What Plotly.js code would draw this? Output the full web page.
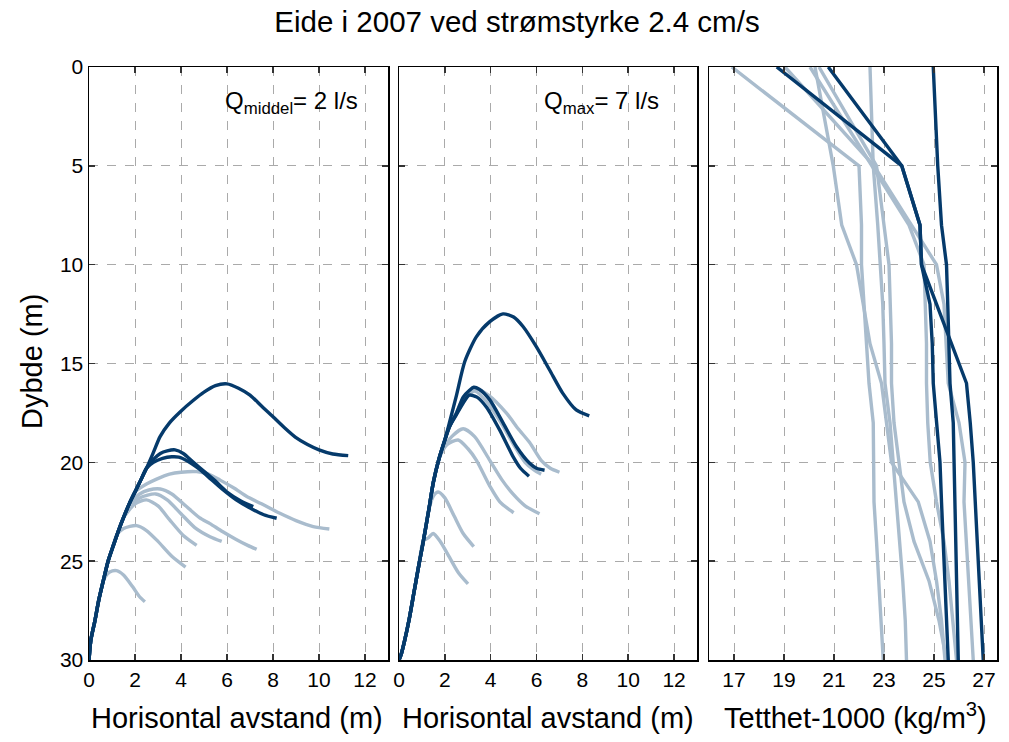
<!DOCTYPE html>
<html>
<head>
<meta charset="utf-8">
<script src="https://cdn.plot.ly/plotly-3.0.1.min.js"></script>
<style>html,body{margin:0;padding:0;background:#fff;}#chart{width:1009px;height:742px;}</style>
</head>
<body>
<div id="chart"></div>
<script>
// ---------- Panel 1: Q middel = 2 l/s (horizontal distance vs depth) ----------
const p1_dark1_x = [0,0.08,0.26,0.42,0.62,0.83,1.06,1.3,1.5,1.75,2.0,2.25,2.5,2.8,3.09,3.5,3.96,4.5,5.0,5.5,6.0,6.5,7.0,7.5,8.0,8.5,9.0,9.5,10.0,10.6,11.27];
const p1_dark1_y = [30,29,28,27,26,25,24.2,23.4,22.8,22.1,21.5,20.9,20.3,19.5,18.7,18.0,17.45,16.9,16.45,16.12,16.03,16.25,16.6,17.15,17.69,18.25,18.75,19.1,19.37,19.58,19.66];
const p1_dark2_x = [0,0.08,0.26,0.42,0.62,0.83,1.06,1.3,1.5,1.75,2.0,2.25,2.5,2.8,3.1,3.4,3.74,4.1,4.54,5.0,5.5,6.0,6.6,7.14];
const p1_dark2_y = [30,29,28,27,26,25,24.2,23.4,22.8,22.1,21.5,20.9,20.3,19.85,19.55,19.42,19.37,19.55,20.0,20.45,20.95,21.5,21.95,22.24];
const p1_dark3_x = [0,0.08,0.26,0.42,0.62,0.83,1.06,1.3,1.5,1.75,2.0,2.25,2.5,2.8,3.2,3.6,3.9,4.3,4.8,5.3,5.84,6.4,7.14,7.6,8.16];
const p1_dark3_y = [30,29,28,27,26,25,24.2,23.4,22.8,22.1,21.5,20.9,20.3,20.0,19.8,19.72,19.74,19.95,20.35,20.85,21.4,21.9,22.4,22.65,22.83];
const p1_light1_x = [0,0.08,0.26,0.42,0.62,0.83,1.06,1.3,1.5,1.75,2.0,2.5,2.94,3.5,4.0,4.68,5.2,5.7,6.3,6.86,7.5,8.3,9.0,9.75,10.45];
const p1_light1_y = [30,29,28,27,26,25,24.2,23.4,22.8,22.1,21.5,21.1,20.85,20.6,20.5,20.47,20.6,20.9,21.3,21.73,22.1,22.58,22.95,23.25,23.37];
const p1_light2_x = [0,0.08,0.26,0.42,0.62,0.83,1.06,1.3,1.5,1.75,2.2,2.6,3.1,3.6,4.2,4.8,5.26,5.8,6.4,6.9,7.29];
const p1_light2_y = [30,29,28,27,26,25,24.2,23.4,22.8,22.1,21.6,21.4,21.35,21.6,22.2,22.8,23.1,23.5,23.9,24.2,24.4];
const p1_light3_x = [0,0.08,0.26,0.42,0.62,0.83,1.06,1.3,1.5,1.7,2.2,2.9,3.4,4.0,4.6,5.26,5.77];
const p1_light3_y = [30,29,28,27,26,25,24.2,23.4,22.8,22.3,21.8,21.6,21.9,22.6,23.3,23.76,24.0];
const p1_light4_x = [0,0.08,0.26,0.42,0.62,0.83,1.06,1.3,1.5,2.0,2.5,3.0,3.5,4.1,4.68];
const p1_light4_y = [30,29,28,27,26,25,24.2,23.4,22.8,22.1,21.9,22.2,22.9,23.7,24.2];
const p1_light5_x = [0,0.08,0.26,0.42,0.62,0.83,1.06,1.2,1.5,2.07,2.5,3.0,3.6,4.2];
const p1_light5_y = [30,29,28,27,26,25,24.2,23.7,23.35,23.2,23.45,24.0,24.75,25.3];
const p1_light6_x = [0,0.08,0.26,0.42,0.62,0.7,0.9,1.2,1.5,1.9,2.2,2.43];
const p1_light6_y = [30,29,28,27,26,25.8,25.55,25.48,25.7,26.3,26.8,27.05];

// ---------- Panel 2: Q max = 7 l/s ----------
const p2_dark1_x = [0,0.1,0.25,0.45,0.65,0.85,1.06,1.3,1.5,1.75,2.0,2.2,2.51,2.87,3.38,3.96,4.54,5.0,5.41,5.99,6.57,7.14,7.73,8.3];
const p2_dark1_y = [30,29.7,29.0,27.9,26.6,25.3,24.0,22.4,21.0,19.8,18.87,18.0,16.6,14.9,13.64,12.88,12.49,12.65,13.13,14.15,15.33,16.5,17.35,17.65];
const p2_dark2_x = [0,0.1,0.25,0.45,0.65,0.85,1.06,1.3,1.5,1.75,2.0,2.2,2.51,2.8,3.09,3.26,3.5,3.96,4.54,5.12,5.7,6.0,6.35];
const p2_dark2_y = [30,29.7,29.0,27.9,26.6,25.3,24.0,22.4,21.0,19.8,18.87,18.2,17.5,16.7,16.34,16.2,16.3,16.84,18.0,19.2,20.05,20.3,20.4];
const p2_dark3_x = [0,0.1,0.25,0.45,0.65,0.85,1.06,1.3,1.5,1.75,2.0,2.2,2.5,2.8,3.06,3.4,3.81,4.39,4.97,5.3,5.67];
const p2_dark3_y = [30,29.7,29.0,27.9,26.6,25.3,24.0,22.4,21.0,19.8,18.87,18.2,17.6,17.0,16.6,16.7,17.2,18.36,19.7,20.3,20.7];
const p2_light1_x = [0,0.1,0.25,0.45,0.65,0.85,1.06,1.3,1.5,1.75,2.0,2.2,2.5,2.9,3.4,3.9,4.68,5.2,5.7,6.2,6.6,7.0];
const p2_light1_y = [30,29.7,29.0,27.9,26.6,25.3,24.0,22.4,21.0,19.8,18.87,18.2,17.5,16.6,16.3,16.6,17.5,18.3,19.0,19.9,20.3,20.5];
const p2_light2_x = [0,0.1,0.25,0.45,0.65,0.85,1.06,1.3,1.5,1.75,2.0,2.2,2.5,2.9,3.3,3.8,4.4,5.0,5.5,5.9,6.2];
const p2_light2_y = [30,29.7,29.0,27.9,26.6,25.3,24.0,22.4,21.0,19.8,18.87,18.2,17.55,16.8,16.4,16.9,17.9,19.1,20.0,20.4,20.6];
const p2_light3_x = [0,0.1,0.25,0.45,0.65,0.85,1.06,1.3,1.5,1.75,1.9,2.3,2.8,3.3,3.96,4.5,4.97,5.5,6.13];
const p2_light3_y = [30,29.7,29.0,27.9,26.6,25.3,24.0,22.4,21.0,19.8,19.4,18.7,18.3,18.7,19.9,20.9,21.6,22.2,22.6];
const p2_light4_x = [0,0.1,0.25,0.45,0.65,0.85,1.06,1.3,1.5,1.75,2.1,2.58,3.0,3.38,3.96,4.4,5.0];
const p2_light4_y = [30,29.7,29.0,27.9,26.6,25.3,24.0,22.4,21.0,19.8,19.1,18.87,19.3,19.9,21.2,22.0,22.55];
const p2_light5_x = [0,0.1,0.25,0.45,0.65,0.85,1.06,1.3,1.5,1.71,2.0,2.4,2.8,3.26];
const p2_light5_y = [30,29.7,29.0,27.9,26.6,25.3,24.0,22.4,21.7,21.5,21.8,22.7,23.6,24.26];
const p2_light6_x = [0,0.1,0.25,0.45,0.65,0.85,1.06,1.3,1.49,1.8,2.2,2.6,3.01];
const p2_light6_y = [30,29.7,29.0,27.9,26.6,25.3,24.0,23.8,23.6,24.0,24.8,25.6,26.15];

// ---------- Panel 3: density profiles (Tetthet-1000) ----------
const depthNodes = [0,5,8,10,12,14,16,18,20,22,24,26,28,30];
const rho_dark1 = [18.71,23.71,24.44,24.5,24.84,24.93,24.97,25.1,25.24,25.3,25.37,25.44,25.5,25.57];
const rho_dark2 = [20.77,23.71,24.44,24.5,25.1,25.7,26.3,26.45,26.57,26.65,26.73,26.81,26.89,26.97];
const rho_dark3 = [24.97,25.15,25.3,25.5,25.55,25.6,25.64,25.77,25.8,25.83,25.87,25.9,25.94,25.97];
const rho_light1 = [16.91,22.0,22.1,22.1,22.2,22.3,22.4,22.57,22.57,22.6,22.7,22.8,22.9,22.97];
const rho_light2 = [22.44,22.57,22.75,22.84,22.95,23.0,23.04,23.24,23.37,23.5,23.65,23.75,23.85,23.9];
const rho_light3 = [20.24,20.97,21.31,21.9,22.17,22.44,22.9,23.1,23.3,24.37,24.84,25.1,25.3,25.44];
const rho_light4 = [19.04,22.6,24.1,25.1,25.4,25.5,25.57,26.0,26.24,26.2,26.3,26.4,26.5,26.57];
const rho_light5 = [20.04,22.5,24.0,24.6,24.65,24.7,24.7,24.75,24.85,25.1,25.4,25.6,25.75,25.9];
const rho_light6 = [20.4,22.7,23.0,23.2,23.25,23.3,23.3,23.4,23.6,23.8,24.2,24.8,25.2,25.5];

// tick labels
const xTicks12 = [0,2,4,6,8,10,12];
const xTicksRho = [17,19,21,23,25,27];
const yTicks = [0,5,10,15,20,25,30];

const DARK = '#053a6b';
const LIGHT = '#a9bccd';
const LW = 3.4;

function tr(x, y, color, xa, ya, smooth) {
  const line = {color: color, width: LW};
  if (smooth) { line.shape = 'spline'; line.smoothing = 0.7; }
  return {x: x, y: y, type: 'scatter', mode: 'lines', xaxis: xa, yaxis: ya,
          line: line, hoverinfo: 'skip', showlegend: false};
}

const data = [
  tr(p1_light1_x, p1_light1_y, LIGHT, 'x', 'y', true),
  tr(p1_light2_x, p1_light2_y, LIGHT, 'x', 'y', true),
  tr(p1_light3_x, p1_light3_y, LIGHT, 'x', 'y', true),
  tr(p1_light4_x, p1_light4_y, LIGHT, 'x', 'y', true),
  tr(p1_light5_x, p1_light5_y, LIGHT, 'x', 'y', true),
  tr(p1_light6_x, p1_light6_y, LIGHT, 'x', 'y', true),
  tr(p1_dark1_x, p1_dark1_y, DARK, 'x', 'y', true),
  tr(p1_dark2_x, p1_dark2_y, DARK, 'x', 'y', true),
  tr(p1_dark3_x, p1_dark3_y, DARK, 'x', 'y', true),
  tr(p2_light1_x, p2_light1_y, LIGHT, 'x2', 'y2', true),
  tr(p2_light2_x, p2_light2_y, LIGHT, 'x2', 'y2', true),
  tr(p2_light3_x, p2_light3_y, LIGHT, 'x2', 'y2', true),
  tr(p2_light4_x, p2_light4_y, LIGHT, 'x2', 'y2', true),
  tr(p2_light5_x, p2_light5_y, LIGHT, 'x2', 'y2', true),
  tr(p2_light6_x, p2_light6_y, LIGHT, 'x2', 'y2', true),
  tr(p2_dark1_x, p2_dark1_y, DARK, 'x2', 'y2', true),
  tr(p2_dark2_x, p2_dark2_y, DARK, 'x2', 'y2', true),
  tr(p2_dark3_x, p2_dark3_y, DARK, 'x2', 'y2', true),
  tr(rho_light1, depthNodes, LIGHT, 'x3', 'y3', false),
  tr(rho_light2, depthNodes, LIGHT, 'x3', 'y3', false),
  tr(rho_light3, depthNodes, LIGHT, 'x3', 'y3', false),
  tr(rho_light4, depthNodes, LIGHT, 'x3', 'y3', false),
  tr(rho_light5, depthNodes, LIGHT, 'x3', 'y3', false),
  tr(rho_light6, depthNodes, LIGHT, 'x3', 'y3', false),
  tr(rho_dark1, depthNodes, DARK, 'x3', 'y3', false),
  tr(rho_dark2, depthNodes, DARK, 'x3', 'y3', false),
  tr(rho_dark3, depthNodes, DARK, 'x3', 'y3', false)
];

const FONT = 'Liberation Sans, Arial, sans-serif';
const W = 1009, H = 742;
const yDom = [(H - 660) / H, (H - 67) / H];
const TICKSIZE = 21;
const LABELSIZE = 29;

function xAx(dom, range, ticks, anchor) {
  return {domain: dom, range: range, tickvals: ticks, ticktext: ticks.map(String), anchor: anchor,
          showline: true, mirror: 'ticks', linecolor: '#000', linewidth: 1.5,
          ticks: 'inside', ticklen: 6, tickcolor: '#333', tickwidth: 1.5,
          showgrid: true, gridcolor: '#aaaaaa', griddash: 'dash', gridwidth: 1,
          zeroline: false, fixedrange: true,
          tickfont: {family: FONT, size: TICKSIZE, color: '#000'}};
}
function yAx(anchor, labels) {
  return {domain: yDom, range: [30, 0], tickvals: yTicks, ticktext: yTicks.map(String), anchor: anchor,
          showticklabels: labels,
          showline: true, mirror: 'ticks', linecolor: '#000', linewidth: 1.5,
          ticks: 'inside', ticklen: 6, tickcolor: '#333', tickwidth: 1.5,
          showgrid: true, gridcolor: '#aaaaaa', griddash: 'dash', gridwidth: 1,
          zeroline: false, fixedrange: true,
          tickfont: {family: FONT, size: TICKSIZE, color: '#000'}};
}

const layout = {
  width: W, height: H,
  margin: {l: 0, r: 0, t: 0, b: 0, pad: 0},
  paper_bgcolor: '#fff', plot_bgcolor: '#fff',
  font: {family: FONT, color: '#000'},
  showlegend: false,
  title: {text: 'Eide i 2007 ved strømstyrke 2.4 cm/s', x: 517 / W, xanchor: 'center',
          y: 1 - 22 / H, yanchor: 'middle', yref: 'container',
          font: {family: FONT, size: 29.5, color: '#000'}},
  xaxis: xAx([89 / W, 388 / W], [0, 13], xTicks12, 'y'),
  xaxis2: xAx([399 / W, 697 / W], [0, 13], xTicks12, 'y2'),
  xaxis3: xAx([709 / W, 997 / W], [16, 27.52], xTicksRho, 'y3'),
  yaxis: yAx('x', true),
  yaxis2: yAx('x2', false),
  yaxis3: yAx('x3', false),
  annotations: [
    {text: 'Q<sub>middel</sub>= 2 l/s', xref: 'x', yref: 'y', x: 11.8, y: 1.8,
     xanchor: 'right', yanchor: 'middle', showarrow: false, font: {family: FONT, size: 24, color: '#000'}},
    {text: 'Q<sub>max</sub>= 7 l/s', xref: 'x2', yref: 'y2', x: 11.45, y: 1.8,
     xanchor: 'right', yanchor: 'middle', showarrow: false, font: {family: FONT, size: 24, color: '#000'}},
    {text: 'Horisontal avstand (m)', xref: 'paper', yref: 'paper', x: 237 / W, y: (H - 718) / H,
     xanchor: 'center', yanchor: 'middle', showarrow: false, font: {family: FONT, size: LABELSIZE, color: '#000'}},
    {text: 'Horisontal avstand (m)', xref: 'paper', yref: 'paper', x: 548 / W, y: (H - 718) / H,
     xanchor: 'center', yanchor: 'middle', showarrow: false, font: {family: FONT, size: LABELSIZE, color: '#000'}},
    {text: 'Tetthet-1000 (kg/m<sup>3</sup>)', xref: 'paper', yref: 'paper', x: 855 / W, y: (H - 716) / H,
     xanchor: 'center', yanchor: 'middle', showarrow: false, font: {family: FONT, size: LABELSIZE, color: '#000'}},
    {text: 'Dybde (m)', xref: 'paper', yref: 'paper', x: 32 / W, y: (H - 362) / H, textangle: -90,
     xanchor: 'center', yanchor: 'middle', showarrow: false, font: {family: FONT, size: LABELSIZE, color: '#000'}}
  ]
};

Plotly.newPlot('chart', data, layout, {staticPlot: true, displayModeBar: false});
</script>
</body>
</html>
